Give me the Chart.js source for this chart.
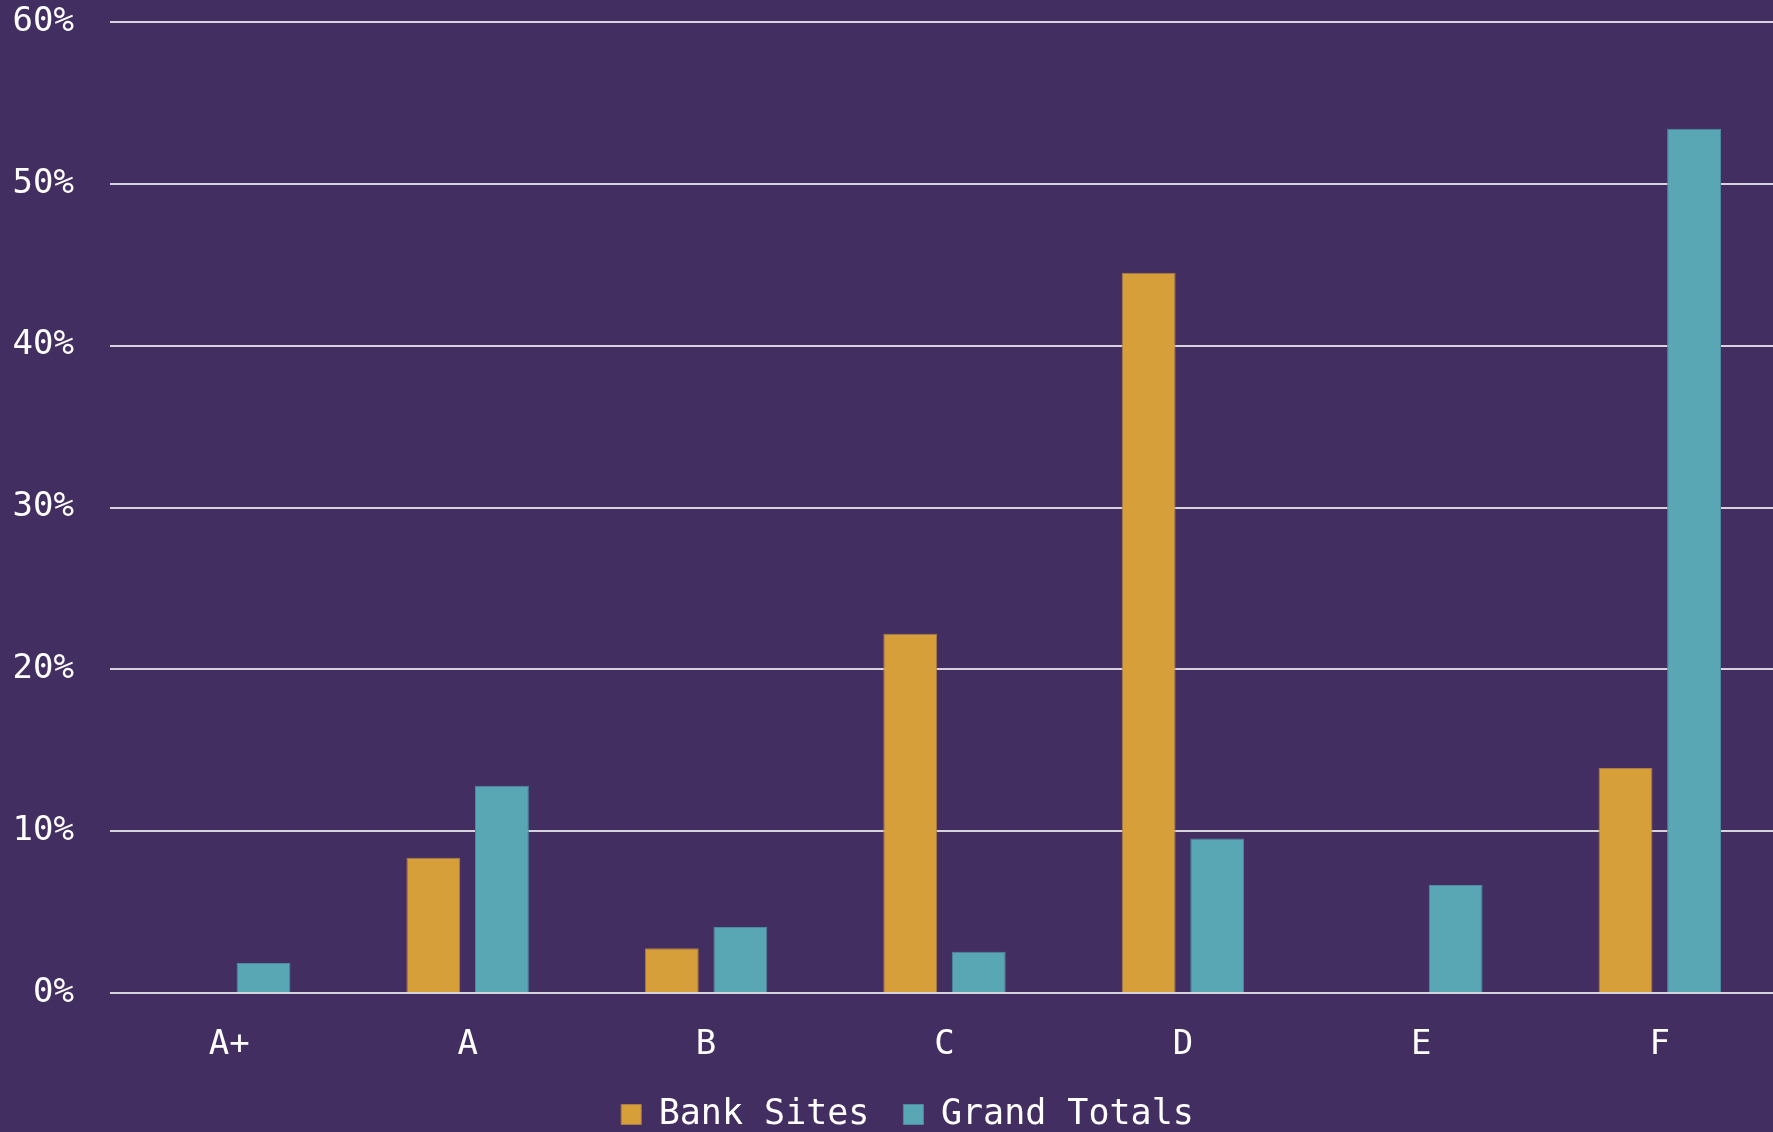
<!DOCTYPE html>
<html>
<head>
<meta charset="utf-8">
<script src="https://cdn.jsdelivr.net/npm/chart.js@4/dist/chart.umd.min.js"></script>
<style>
  html, body { margin: 0; padding: 0; background: #432e62; }
  #wrap { width: 1773px; height: 1132px; position: relative; }
</style>
</head>
<body>
<div id="wrap"><canvas id="grafico"></canvas></div>
<script>
// ==========================================
// Datos
// ==========================================
const categorias = ['A+', 'A', 'B', 'C', 'D', 'E', 'F'];
const bankSites = [0, 8.35, 2.76, 22.2, 44.5, 0, 13.9];
const grandTotals = [1.85, 12.8, 4.08, 2.55, 9.55, 6.68, 53.4];
const ticksY = [0, 10, 20, 30, 40, 50, 60];

// Colores
const colorFondo = '#432e62';
const colorBank = '#d79f39';
const colorGrand = '#59a7b4';
const colorGrid = '#d6d3dc';
const fuente = "'DejaVu Sans Mono', monospace";

// Pinta el fondo del canvas
const fondoPlugin = {
    id: 'fondo',
    beforeDraw(chart) {
        const ctx = chart.ctx;
        ctx.save();
        ctx.fillStyle = colorFondo;
        ctx.fillRect(0, 0, chart.width, chart.height);
        ctx.restore();
    }
};

// En el original el área del gráfico sobresale unos píxeles por la derecha
const extraDerecha = 6;
const extenderPlugin = {
    id: 'extender',
    afterLayout(chart) {
        const x = chart.scales.x;
        x.right += extraDerecha;
        x.width += extraDerecha;
        x.configure();
        chart.chartArea.right += extraDerecha;
        chart.chartArea.width += extraDerecha;
    }
};

const ctx = document.getElementById('grafico').getContext('2d');

new Chart(ctx, {
    type: 'bar',
    data: {
        labels: categorias,
        datasets: [
            {
                label: 'Bank Sites',
                data: bankSites,
                backgroundColor: colorBank,
                borderColor: '#a97d4a',
                borderWidth: 1,
                barPercentage: 0.786,
                categoryPercentage: 0.575
            },
            {
                label: 'Grand Totals',
                data: grandTotals,
                backgroundColor: colorGrand,
                borderColor: '#4d8aa0',
                borderWidth: 1,
                barPercentage: 0.786,
                categoryPercentage: 0.575
            }
        ]
    },
    options: {
        responsive: true,
        maintainAspectRatio: false,
        animation: false,
        // right negativo: centra la leyenda como en el original
        layout: { padding: { top: 0, left: 0, right: -42, bottom: -10 } },
        scales: {
            x: {
                grid: { display: false, drawTicks: false },
                border: { display: false },
                ticks: { color: '#ffffff', font: { family: fuente, size: 34 }, padding: 32 },
                afterFit: s => { s.height = 70; s.paddingLeft = 0; s.paddingRight = 0; }
            },
            y: {
                min: 0,
                max: 60,
                afterBuildTicks: axis => { axis.ticks = ticksY.map(v => ({ value: v })); },
                grid: { color: colorGrid, lineWidth: 2, drawTicks: false },
                border: { display: false },
                ticks: {
                    color: '#ffffff',
                    font: { family: fuente, size: 34 },
                    padding: 36,
                    callback: v => v + '%'
                },
                afterFit: s => { s.width = 110; s.paddingTop = 22; s.paddingBottom = 0; }
            }
        },
        plugins: {
            legend: {
                position: 'bottom',
                labels: {
                    color: '#ffffff',
                    font: { family: fuente, size: 35 },
                    boxWidth: 20,
                    boxHeight: 20,
                    padding: 34
                }
            },
            tooltip: { enabled: false }
        }
    },
    plugins: [fondoPlugin, extenderPlugin]
});
</script>
</body>
</html>
